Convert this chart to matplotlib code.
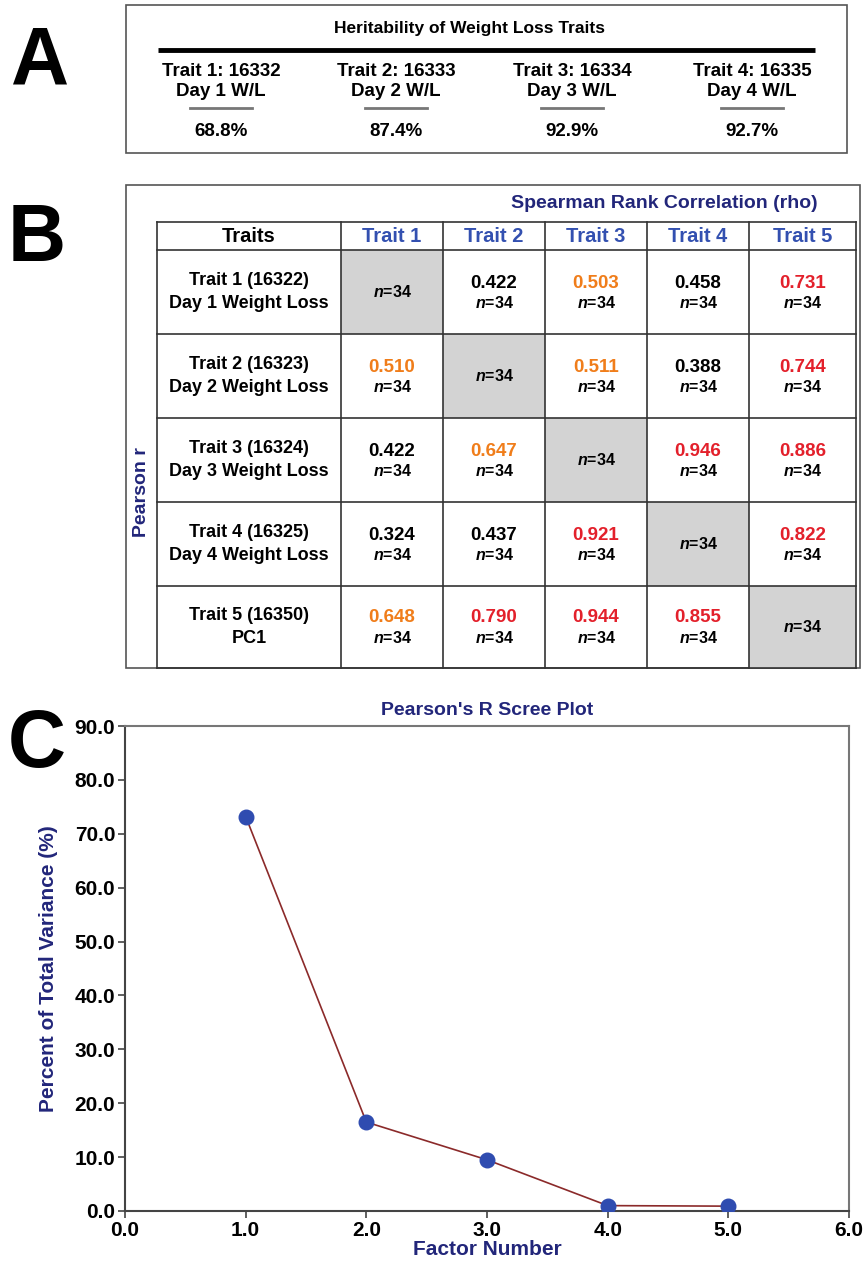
import matplotlib
matplotlib.use('Agg')
import matplotlib.pyplot as plt
from matplotlib.patches import Rectangle

plt.rcParams['font.family'] = ['Liberation Sans Narrow', 'Liberation Sans', 'DejaVu Sans']
plt.rcParams['font.weight'] = 'bold'
plt.rcParams['mathtext.fontset'] = 'custom'
plt.rcParams['mathtext.it'] = 'Liberation Sans:italic'
plt.rcParams['mathtext.rm'] = 'Liberation Sans:bold'

# panel A data
herit_names = ['Trait 1: 16332', 'Trait 2: 16333', 'Trait 3: 16334', 'Trait 4: 16335']
herit_days = ['Day 1 W/L', 'Day 2 W/L', 'Day 3 W/L', 'Day 4 W/L']
herit_pct = ['68.8%', '87.4%', '92.9%', '92.7%']

# panel B data
col_heads = ['Trait 1', 'Trait 2', 'Trait 3', 'Trait 4', 'Trait 5']
row_heads = ['Trait 1 (16322)\nDay 1 Weight Loss',
             'Trait 2 (16323)\nDay 2 Weight Loss',
             'Trait 3 (16324)\nDay 3 Weight Loss',
             'Trait 4 (16325)\nDay 4 Weight Loss',
             'Trait 5 (16350)\nPC1']
corr = [[None, 0.422, 0.503, 0.458, 0.731],
        [0.510, None, 0.511, 0.388, 0.744],
        [0.422, 0.647, None, 0.946, 0.886],
        [0.324, 0.437, 0.921, None, 0.822],
        [0.648, 0.790, 0.944, 0.855, None]]
n_obs = 34

# panel C data
factor = [1, 2, 3, 4, 5]
pct_var = [73.2, 16.5, 9.5, 1.0, 0.9]

NAVY = '#22267a'
BLUE = '#3350b0'
ORANGE = '#f07d1a'
RED = '#e3202b'

W, H = 865, 1264
fig = plt.figure(figsize=(W / 100, H / 100), dpi=100)

# overlay axes in pixel units for panels A and B
ov = fig.add_axes([0, 0, 1, 1])
ov.set_xlim(0, W)
ov.set_ylim(H, 0)
ov.axis('off')

# ---- panel A
ov.text(40, 62, 'A', fontsize=58, ha='center', va='center', family='Liberation Sans')
ov.add_patch(Rectangle((126, 5), 721, 148, fill=False, ec='#555555', lw=1.2))
ov.text(470, 28, 'Heritability of Weight Loss Traits', fontsize=12.5, ha='center', va='center')
ov.plot([158, 815], [50, 50], color='black', lw=3.5, solid_capstyle='butt')
a_x = [221, 396, 572, 752]
for i in range(4):
    ov.text(a_x[i], 72, herit_names[i], fontsize=13.5, ha='center', va='center')
    ov.text(a_x[i], 92, herit_days[i], fontsize=13.5, ha='center', va='center')
    ov.plot([a_x[i] - 31, a_x[i] + 31], [108, 108], color='#777777', lw=2)
    ov.text(a_x[i], 132, herit_pct[i], fontsize=13.5, ha='center', va='center')

# ---- panel B
ov.text(37, 240, 'B', fontsize=58, ha='center', va='center', family='Liberation Sans')
ov.add_patch(Rectangle((126, 185), 734, 483, fill=False, ec='#555555', lw=1.2))
ov.text(818, 203, 'Spearman Rank Correlation (rho)', fontsize=14, ha='right', va='center',
        color=NAVY)
ov.text(141, 492, 'Pearson r', fontsize=14, ha='center', va='center', rotation=90,
        color=NAVY, family='Liberation Sans')

col_edges = [157, 341, 443, 545, 647, 749, 856]
row_edges = [222, 250, 334, 418, 502, 586, 668]

ov.text((col_edges[0] + col_edges[1]) / 2, 236, 'Traits', fontsize=14.5, ha='center', va='center')
for j, h in enumerate(col_heads):
    ov.text((col_edges[j + 1] + col_edges[j + 2]) / 2, 236, h, fontsize=14.5,
            ha='center', va='center', color=BLUE)

for i, lab in enumerate(row_heads):
    y0, y1 = row_edges[i + 1], row_edges[i + 2]
    yc = (y0 + y1) / 2
    ov.text((col_edges[0] + col_edges[1]) / 2, yc, lab, fontsize=13, ha='center',
            va='center', linespacing=1.45)
    for j in range(5):
        x0, x1 = col_edges[j + 1], col_edges[j + 2]
        xc = (x0 + x1) / 2
        v = corr[i][j]
        if v is None:
            ov.add_patch(Rectangle((x0, y0), x1 - x0, y1 - y0, color='#d3d3d3', lw=0))
            ov.text(xc, yc, r'$\mathit{n}$=%d' % n_obs, fontsize=11.5, ha='center', va='center')
        else:
            c = RED if v >= 0.7 else (ORANGE if v >= 0.5 else 'black')
            ov.text(xc, yc - 9, '%.3f' % v, fontsize=13.5, ha='center', va='center', color=c)
            ov.text(xc, yc + 11, r'$\mathit{n}$=%d' % n_obs, fontsize=11.5, ha='center',
                    va='center')

for x in col_edges:
    ov.plot([x, x], [row_edges[0], row_edges[-1]], color='#333333', lw=1.2)
for y in row_edges:
    ov.plot([col_edges[0], col_edges[-1]], [y, y], color='#333333', lw=1.2)

# ---- panel C
ov.text(37, 746, 'C', fontsize=58, ha='center', va='center', family='Liberation Sans')

ax = fig.add_axes([125 / W, (H - 1211) / H, (849 - 125) / W, (1211 - 726) / H])
ax.plot(factor, pct_var, color='#8b2a2a', lw=1.2, zorder=2)
ax.scatter(factor, pct_var, s=110, color='#2f4cb0', zorder=3)
ax.set_xlim(0, 6)
ax.set_ylim(0, 90)
ax.set_xticks(range(0, 7))
ax.set_yticks(range(0, 91, 10))
ax.set_xticklabels(['%.1f' % t for t in range(0, 7)])
ax.set_yticklabels(['%.1f' % t for t in range(0, 91, 10)])
ax.tick_params(labelsize=15, length=5, width=1.2, color='#444444', pad=2)
for s in ['left', 'bottom']:
    ax.spines[s].set_color('#444444')
    ax.spines[s].set_linewidth(1.5)
for s in ['top', 'right']:
    ax.spines[s].set_color('#777777')
    ax.spines[s].set_linewidth(1.5)
ax.set_title("Pearson's R Scree Plot", fontsize=14, color=NAVY, pad=8,
             family='Liberation Sans', fontweight='bold')
ax.set_xlabel('Factor Number', fontsize=15, color=NAVY, labelpad=0, fontweight='bold')
ax.set_ylabel('Percent of Total Variance (%)', fontsize=15, color=NAVY, labelpad=12,
              family='Liberation Sans', fontweight='bold')

fig.savefig('out.png', dpi=100)
